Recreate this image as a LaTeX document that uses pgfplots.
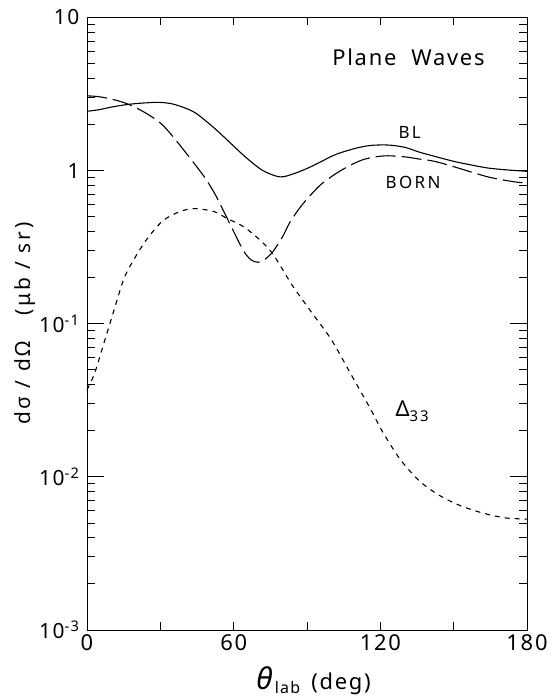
\documentclass[border=0pt]{standalone}
\usepackage{fontspec}
\setmainfont{Noto Sans}
\newfontfamily\spaced[LetterSpace=8]{Noto Sans}
\newfontfamily\wide[LetterSpace=14]{Noto Sans}
\usepackage{pgfplots}
\pgfplotsset{compat=1.18}
\begin{document}
\begin{tikzpicture}
\path[use as bounding box] (-87bp,-70bp) rectangle (467bp,630bp);
\begin{axis}[
  at={(0,0)}, anchor=south west,
  scale only axis, width=440bp, height=612.5bp,
  ymode=log, xmin=0, xmax=180, ymin=0.001, ymax=10,
  xtick={0,30,...,180}, xticklabels={0,,60,,120,,180},
  ytick={0.001,0.01,0.1,1,10},
  yticklabels={10\textsuperscript{-3},10\textsuperscript{-2},10\textsuperscript{-1},1,10},
  major tick length=17bp, minor tick length=8bp,
  xtick style={/pgfplots/major tick length=8bp},
  tick style={line width=0.9pt, black},
  axis line style={line width=0.9pt},
  xticklabel style={font=\fontsize{22}{24}\selectfont\spaced, yshift=-1bp},
  yticklabel style={font=\fontsize{21}{24}\selectfont\spaced, xshift=-4bp},
  xlabel={\fontsize{22}{26}\selectfont\spaced\textit{\fontsize{30}{30}\selectfont θ}\raisebox{-0.35ex}{\fontsize{16}{18}\selectfont lab}\, (deg)},
  xlabel style={at={(axis description cs:0.515,-0.082)}, anchor=center},
  ylabel={\fontsize{21}{24}\selectfont\wide dσ / dΩ\ \ \ (μb / sr)},
  ylabel style={at={(axis description cs:-0.14,0.5)}, anchor=center},
  clip=false,
]
\addplot[black, line width=1.1pt, smooth] coordinates {
(0,2.44) (5,2.50) (10,2.60) (17,2.71) (24,2.77) (30,2.79) (36,2.70) (44,2.40)
(52,1.90) (58,1.55) (65,1.22) (72,1.00) (79,0.91) (85,0.96) (91,1.05) (96,1.15)
(102,1.28) (110,1.40) (116,1.46) (123,1.47) (130,1.42) (136,1.32) (143,1.23)
(150,1.15) (157,1.09) (164,1.04) (172,1.01) (180,0.99)
};
\addplot[black, line width=1.1pt, smooth, dash pattern=on 20bp off 6bp] coordinates {
(0,3.08) (4,3.05) (8,2.98) (13,2.85) (17,2.71) (22,2.48) (27,2.22) (31,1.98)
(35,1.68) (39,1.40) (43,1.16) (48,0.91) (52,0.72) (56,0.54) (60,0.40) (64,0.30)
(67,0.262) (70,0.252) (73,0.265) (76,0.295) (80,0.37) (83,0.46) (87,0.57)
(91,0.68) (96,0.82) (102,0.96) (108,1.09) (113,1.18) (118,1.23) (123,1.25)
(130,1.23) (136,1.19) (141,1.16) (145,1.12) (151,1.05) (158,0.97) (164,0.91)
(170,0.87) (176,0.84) (180,0.83)
};
\addplot[black, line width=1.1pt, smooth, dash pattern=on 5bp off 5bp] coordinates {
(0,0.037) (3,0.047) (6.5,0.071) (10.8,0.119) (15,0.195) (19,0.26) (24.4,0.355)
(31,0.47) (38,0.54) (44,0.565) (52,0.54) (57,0.49) (65,0.42) (75,0.30) (84,0.178)
(92,0.118) (100,0.0785) (107.6,0.048) (116,0.0277) (121,0.0196) (128,0.0131)
(136,0.0094) (144,0.0076) (152.6,0.0065) (162,0.0058) (171,0.0054) (180,0.0053)
};
\node[font=\fontsize{22}{24}\selectfont\spaced] at (axis cs:131.5,5.53) {Plane\ \ Waves};
\node[font=\fontsize{17}{20}\selectfont\wide] at (axis cs:132,1.77) {BL};
\node[font=\fontsize{17}{20}\selectfont\wide] at (axis cs:133.4,0.836) {BORN};
\node[font=\fontsize{22}{24}\selectfont] at (axis cs:133,0.0269) {Δ\raisebox{-0.45ex}{\fontsize{15}{16}\selectfont\wide 33}};
\end{axis}
\end{tikzpicture}
\end{document}
